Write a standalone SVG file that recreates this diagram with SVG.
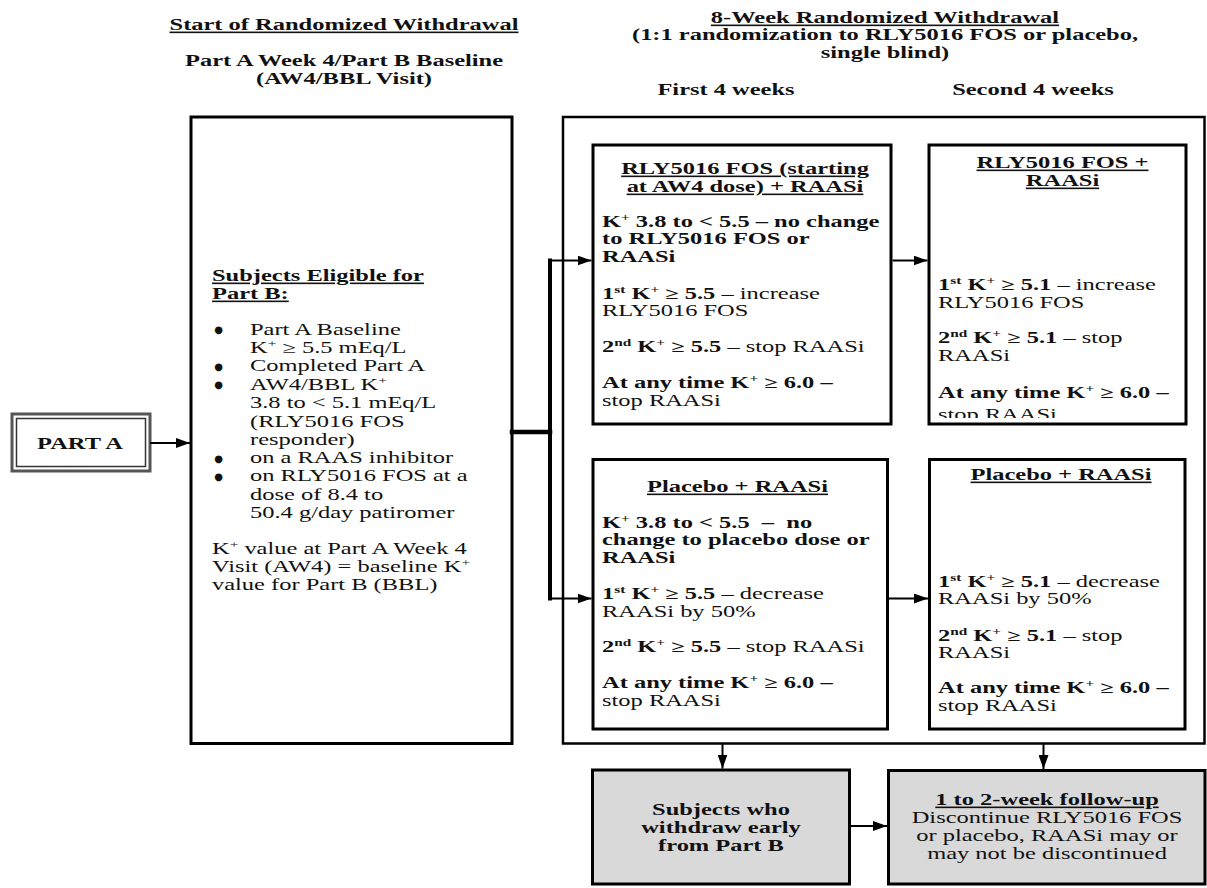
<svg xmlns="http://www.w3.org/2000/svg" width="1207" height="888" viewBox="0 0 1207 888">
<defs>
<style>
.t{font-family:"Liberation Serif","Times New Roman",serif;font-size:16px;fill:#111}
.b{font-weight:bold}
.n{font-weight:normal}
.u{text-decoration:underline}
.m{text-anchor:middle}
.s{font-size:10px}
.bul{font-family:"DejaVu Sans","Liberation Sans",sans-serif;font-size:10px;fill:#111;text-anchor:middle}
.box{fill:#fff;stroke:#000;stroke-width:3}
.gbox{fill:#d9d9d9;stroke:#000;stroke-width:3}
.ln{fill:none;stroke:#000;stroke-width:2}
.thick{fill:none;stroke:#000;stroke-width:4.5;stroke-linecap:square}
</style>
<marker id="ah" markerUnits="userSpaceOnUse" markerWidth="14" markerHeight="10" refX="14" refY="5" orient="auto"><path d="M0,0 L14,5 L0,10 Z" fill="#000"/></marker>
<clipPath id="cB1"><rect x="929" y="145" width="257" height="273"/></clipPath>
</defs>
<rect width="1207" height="888" fill="#fff"/>

<g id="headers">
<text class="t b m" transform="translate(344 0) scale(1.53 1)"><tspan x="0" y="30" class="u">Start of Randomized Withdrawal</tspan><tspan x="0" y="66">Part A Week 4/Part B Baseline</tspan><tspan x="0" y="84">(AW4/BBL Visit)</tspan></text>
<text class="t b m" transform="translate(885 0) scale(1.53 1)"><tspan x="0" y="23" class="u">8-Week Randomized Withdrawal</tspan><tspan x="0" y="40">(1:1 randomization to RLY5016 FOS or placebo,</tspan><tspan x="0" y="58">single blind)</tspan></text>
<text class="t b m" transform="translate(726 0) scale(1.53 1)"><tspan x="0" y="95">First 4 weeks</tspan></text>
<text class="t b m" transform="translate(1033 0) scale(1.53 1)"><tspan x="0" y="95">Second 4 weeks</tspan></text>
</g>

<g id="partA">
<rect x="12" y="414" width="138" height="57" fill="#fff" stroke="#555" stroke-width="3"/>
<rect x="16.5" y="418.5" width="129" height="48" fill="none" stroke="#333" stroke-width="1.5"/>
<text class="t b m" style="font-size:17px" transform="translate(80 0) scale(1.44 1)"><tspan x="0" y="449">PART A</tspan></text>
</g>

<g id="eligible">
<rect class="box" x="191" y="117" width="321" height="626.5"/>
<text class="t b u" transform="translate(212 0) scale(1.53 1)"><tspan x="0" y="281">Subjects Eligible for</tspan><tspan x="0" y="299">Part B:</tspan></text>
<text class="bul"><tspan x="218.5" y="333">●</tspan><tspan x="218.5" y="369.5">●</tspan><tspan x="218.5" y="388">●</tspan><tspan x="218.5" y="461.5">●</tspan><tspan x="218.5" y="479.5">●</tspan></text>
<text class="t" transform="translate(250 0) scale(1.53 1)"><tspan x="0" y="335">Part A Baseline</tspan><tspan x="0" y="353">K</tspan><tspan class="s" dy="-6">+</tspan><tspan dy="6"> ≥ 5.5 mEq/L</tspan><tspan x="0" y="371.5">Completed Part A</tspan><tspan x="0" y="390">AW4/BBL K</tspan><tspan class="s" dy="-6">+</tspan><tspan x="0" y="408.5">3.8 to &lt; 5.1 mEq/L</tspan><tspan x="0" y="427">(RLY5016 FOS</tspan><tspan x="0" y="445">responder)</tspan><tspan x="0" y="463.5">on a RAAS inhibitor</tspan><tspan x="0" y="481.5">on RLY5016 FOS at a</tspan><tspan x="0" y="500">dose of 8.4 to</tspan><tspan x="0" y="518">50.4 g/day patiromer</tspan></text>
<text class="t" transform="translate(212 0) scale(1.53 1)"><tspan x="0" y="554">K</tspan><tspan class="s" dy="-6">+</tspan><tspan dy="6"> value at Part A Week 4</tspan><tspan x="0" y="572">Visit (AW4) = baseline K</tspan><tspan class="s" dy="-6">+</tspan><tspan x="0" y="590">value for Part B (BBL)</tspan></text>
</g>

<g id="window">
<rect x="563" y="117" width="641.5" height="626.5" fill="none" stroke="#000" stroke-width="2.5"/>
</g>

<g id="a1">
<rect class="box" x="593" y="145" width="298" height="279"/>
<text class="t b u m" transform="translate(745 0) scale(1.53 1)"><tspan x="0" y="174">RLY5016 FOS (starting</tspan><tspan x="0" y="192">at AW4 dose) + RAASi</tspan></text>
<text class="t b" transform="translate(602 0) scale(1.53 1)"><tspan x="0" y="227">K</tspan><tspan class="s" dy="-6">+</tspan><tspan dy="6"> 3.8 to &lt; 5.5 – no change</tspan><tspan x="0" y="244.5">to RLY5016 FOS or</tspan><tspan x="0" y="262">RAASi</tspan><tspan x="0" y="299">1</tspan><tspan class="s" dy="-6">st</tspan><tspan dy="6"> K</tspan><tspan class="s" dy="-6">+</tspan><tspan dy="6"> ≥ 5.5 </tspan><tspan class="n">– increase</tspan><tspan x="0" y="316.5" class="n">RLY5016 FOS</tspan><tspan x="0" y="352">2</tspan><tspan class="s" dy="-6">nd</tspan><tspan dy="6"> K</tspan><tspan class="s" dy="-6">+</tspan><tspan dy="6"> ≥ 5.5 </tspan><tspan class="n">– stop RAASi</tspan><tspan x="0" y="388.5">At any time K</tspan><tspan class="s" dy="-6">+</tspan><tspan dy="6"> ≥ 6.0 –</tspan><tspan x="0" y="406" class="n">stop RAASi</tspan></text>
</g>

<g id="a2">
<rect class="box" x="593" y="459.5" width="294.5" height="269.5"/>
<text class="t b u m" transform="translate(737.5 0) scale(1.53 1)"><tspan x="0" y="492">Placebo + RAASi</tspan></text>
<text class="t b" transform="translate(602 0) scale(1.53 1)"><tspan x="0" y="528">K</tspan><tspan class="s" dy="-6">+</tspan><tspan dy="6"> 3.8 to &lt; 5.5&#160; –&#160; no</tspan><tspan x="0" y="545.5">change to placebo dose or</tspan><tspan x="0" y="563">RAASi</tspan><tspan x="0" y="599.5">1</tspan><tspan class="s" dy="-6">st</tspan><tspan dy="6"> K</tspan><tspan class="s" dy="-6">+</tspan><tspan dy="6"> ≥ 5.5 </tspan><tspan class="n">– decrease</tspan><tspan x="0" y="617" class="n">RAASi by 50%</tspan><tspan x="0" y="652.5">2</tspan><tspan class="s" dy="-6">nd</tspan><tspan dy="6"> K</tspan><tspan class="s" dy="-6">+</tspan><tspan dy="6"> ≥ 5.5 </tspan><tspan class="n">– stop RAASi</tspan><tspan x="0" y="688.5">At any time K</tspan><tspan class="s" dy="-6">+</tspan><tspan dy="6"> ≥ 6.0 –</tspan><tspan x="0" y="706" class="n">stop RAASi</tspan></text>
</g>

<g id="b1">
<rect class="box" x="929" y="145" width="257" height="279"/>
<text class="t b u m" transform="translate(1062.5 0) scale(1.53 1)"><tspan x="0" y="168">RLY5016 FOS +</tspan><tspan x="0" y="186">RAASi</tspan></text>
<g clip-path="url(#cB1)">
<text class="t b" transform="translate(938 0) scale(1.53 1)"><tspan x="0" y="290">1</tspan><tspan class="s" dy="-6">st</tspan><tspan dy="6"> K</tspan><tspan class="s" dy="-6">+</tspan><tspan dy="6"> ≥ 5.1 </tspan><tspan class="n">– increase</tspan><tspan x="0" y="308" class="n">RLY5016 FOS</tspan><tspan x="0" y="343.5">2</tspan><tspan class="s" dy="-6">nd</tspan><tspan dy="6"> K</tspan><tspan class="s" dy="-6">+</tspan><tspan dy="6"> ≥ 5.1 </tspan><tspan class="n">– stop</tspan><tspan x="0" y="361.5" class="n">RAASi</tspan><tspan x="0" y="398.5">At any time K</tspan><tspan class="s" dy="-6">+</tspan><tspan dy="6"> ≥ 6.0 –</tspan><tspan x="0" y="420" class="n">stop RAASi</tspan></text>
</g>
</g>

<g id="b2">
<rect class="box" x="929.5" y="459.5" width="255.5" height="269.5"/>
<text class="t b u m" transform="translate(1061 0) scale(1.53 1)"><tspan x="0" y="480">Placebo + RAASi</tspan></text>
<text class="t b" transform="translate(938 0) scale(1.53 1)"><tspan x="0" y="587">1</tspan><tspan class="s" dy="-6">st</tspan><tspan dy="6"> K</tspan><tspan class="s" dy="-6">+</tspan><tspan dy="6"> ≥ 5.1 </tspan><tspan class="n">– decrease</tspan><tspan x="0" y="604.5" class="n">RAASi by 50%</tspan><tspan x="0" y="641">2</tspan><tspan class="s" dy="-6">nd</tspan><tspan dy="6"> K</tspan><tspan class="s" dy="-6">+</tspan><tspan dy="6"> ≥ 5.1 </tspan><tspan class="n">– stop</tspan><tspan x="0" y="658.5" class="n">RAASi</tspan><tspan x="0" y="693.5">At any time K</tspan><tspan class="s" dy="-6">+</tspan><tspan dy="6"> ≥ 6.0 –</tspan><tspan x="0" y="711" class="n">stop RAASi</tspan></text>
</g>

<g id="withdraw">
<rect class="gbox" x="592.5" y="770" width="257" height="114"/>
<text class="t b m" transform="translate(721 0) scale(1.53 1)"><tspan x="0" y="815">Subjects who</tspan><tspan x="0" y="833">withdraw early</tspan><tspan x="0" y="851">from Part B</tspan></text>
</g>

<g id="followup">
<rect class="gbox" x="888.5" y="770.5" width="316.5" height="113.5"/>
<text class="t m" transform="translate(1047 0) scale(1.53 1)"><tspan x="0" y="805" class="b u">1 to 2-week follow-up</tspan><tspan x="0" y="823">Discontinue RLY5016 FOS</tspan><tspan x="0" y="841">or placebo, RAASi may or</tspan><tspan x="0" y="859">may not be discontinued</tspan></text>
</g>

<g id="connectors">
<line class="ln" x1="150" y1="443" x2="190" y2="443" marker-end="url(#ah)"/>
<path class="thick" d="M512,432 H550"/>
<path class="thick" style="stroke-width:4" d="M550,260.5 V598.5"/>
<line class="ln" x1="550" y1="260.5" x2="591.5" y2="260.5" marker-end="url(#ah)"/>
<line class="ln" x1="550" y1="598.5" x2="591.5" y2="598.5" marker-end="url(#ah)"/>
<line class="ln" x1="892.5" y1="260.5" x2="927.5" y2="260.5" marker-end="url(#ah)"/>
<line class="ln" x1="889" y1="598.5" x2="928" y2="598.5" marker-end="url(#ah)"/>
<line class="ln" x1="722.5" y1="744" x2="722.5" y2="768.5" marker-end="url(#ah)"/>
<line class="ln" x1="1043.5" y1="744" x2="1043.5" y2="769" marker-end="url(#ah)"/>
<line class="ln" x1="851" y1="826" x2="887" y2="826" marker-end="url(#ah)"/>
</g>
</svg>
